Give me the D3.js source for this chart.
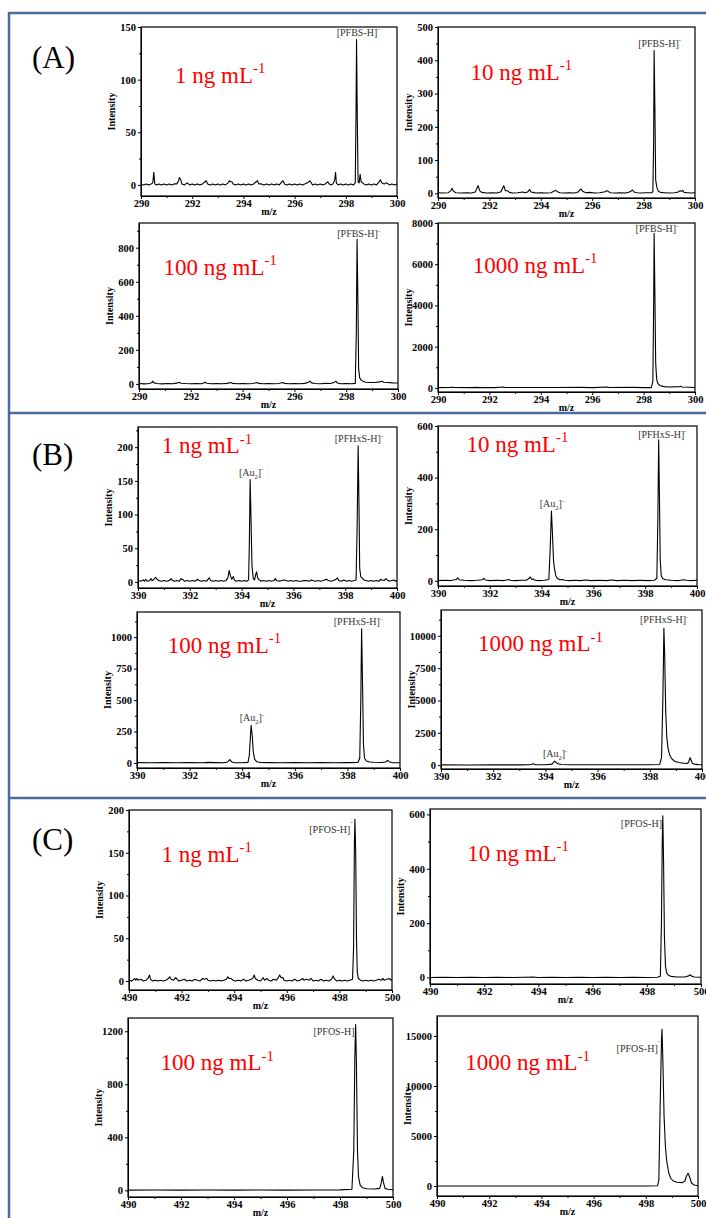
<!DOCTYPE html>
<html>
<head>
<meta charset="utf-8">
<script src="https://cdn.jsdelivr.net/npm/d3@7"></script>
<style>
body { margin: 0; background: #fff; }
svg text { font-family: "Liberation Serif", "Times New Roman", serif; }
</style>
</head>
<body>
<svg></svg>
<script>
// ---- data ----
var panelNames = ["(A)", "(B)", "(C)"];
var mzRanges = [[290, 300], [390, 400], [490, 500]];
var concentrations = ["1", "10", "100", "1000"];

// (A) PFBS spectra, [m/z, intensity]
var pfbs1 = [[290.0,1],[290.1,0],[290.2,1],[290.3,0],[290.4,1],[290.46,2],[290.5,12],[290.54,1],[290.6,0],[290.7,1],[290.8,0],[290.9,1],[291.0,0],[291.1,1],[291.2,0],[291.3,1],[291.4,1],[291.47,4],[291.5,7],[291.55,5],[291.6,1],[291.7,0],[291.8,2],[291.9,0],[292.0,1],[292.1,0],[292.2,1],[292.3,0],[292.4,1],[292.5,3],[292.55,4],[292.6,1],[292.7,0],[292.8,1],[292.9,0],[293.0,1],[293.1,0],[293.2,1],[293.3,0],[293.4,2],[293.45,4],[293.5,3],[293.55,3],[293.6,1],[293.7,0],[293.8,1],[293.9,0],[294.0,1],[294.1,0],[294.2,1],[294.3,0],[294.4,1],[294.5,3],[294.55,4],[294.6,1],[294.7,1],[294.8,0],[294.9,1],[295.0,0],[295.1,1],[295.2,0],[295.3,1],[295.4,0],[295.5,3],[295.55,4],[295.6,1],[295.7,0],[295.8,1],[295.9,0],[296.0,1],[296.1,0],[296.2,1],[296.3,0],[296.4,1],[296.5,2],[296.6,4],[296.65,2],[296.7,0],[296.8,1],[296.9,0],[297.0,1],[297.1,0],[297.2,1],[297.3,3],[297.35,1],[297.4,0],[297.5,1],[297.57,5],[297.6,12],[297.63,2],[297.7,0],[297.8,1],[297.9,0],[298.0,1],[298.1,0],[298.2,1],[298.3,0],[298.37,2],[298.4,70],[298.42,138],[298.45,60],[298.48,3],[298.52,2],[298.56,10],[298.6,3],[298.7,1],[298.8,0],[298.9,1],[299.0,0],[299.1,1],[299.2,0],[299.3,3],[299.35,5],[299.4,2],[299.5,1],[299.6,2],[299.7,0],[299.8,1],[299.9,0],[300.0,1]];
var pfbs10 = [[290,2],[290.2,1],[290.4,2],[290.5,8],[290.55,15],[290.6,6],[290.7,2],[290.9,1],[291.1,2],[291.3,1],[291.45,4],[291.53,18],[291.56,23],[291.62,8],[291.7,3],[291.9,1],[292.1,2],[292.3,1],[292.45,5],[292.53,18],[292.56,23],[292.62,8],[292.7,8],[292.78,3],[292.9,1],[293.1,2],[293.3,4],[293.4,2],[293.5,5],[293.57,11],[293.62,4],[293.7,3],[293.8,1],[294.0,2],[294.2,1],[294.4,2],[294.5,6],[294.57,9],[294.65,5],[294.75,2],[294.9,1],[295.1,2],[295.3,1],[295.45,4],[295.53,11],[295.57,13],[295.63,6],[295.75,2],[295.9,3],[296.1,1],[296.3,2],[296.5,5],[296.56,8],[296.62,6],[296.7,2],[296.9,1],[297.1,2],[297.3,1],[297.45,4],[297.53,8],[297.57,10],[297.63,4],[297.75,2],[297.9,1],[298.1,2],[298.3,2],[298.36,5],[298.39,150],[298.41,429],[298.44,250],[298.47,40],[298.51,20],[298.56,8],[298.65,3],[298.8,2],[299.0,1],[299.2,2],[299.35,4],[299.42,8],[299.47,6],[299.52,9],[299.58,3],[299.7,2],[299.85,1],[300,2]];
var pfbs100 = [[290,2],[290.2,0],[290.4,2],[290.5,8],[290.53,16],[290.58,6],[290.7,2],[290.9,0],[291.1,2],[291.3,1],[291.5,6],[291.55,10],[291.62,4],[291.8,2],[292.0,1],[292.2,2],[292.4,1],[292.5,5],[292.55,9],[292.62,4],[292.8,1],[293.0,2],[293.2,1],[293.4,3],[293.55,8],[293.62,3],[293.8,1],[294.0,2],[294.2,1],[294.4,2],[294.55,8],[294.62,3],[294.8,1],[295.0,2],[295.2,1],[295.4,2],[295.55,8],[295.62,3],[295.8,1],[296.0,2],[296.2,1],[296.4,3],[296.55,10],[296.6,16],[296.66,6],[296.8,2],[297.0,1],[297.2,3],[297.4,2],[297.55,10],[297.6,16],[297.66,5],[297.8,1],[298.0,2],[298.2,1],[298.35,3],[298.39,300],[298.42,849],[298.45,500],[298.48,90],[298.52,35],[298.58,22],[298.65,15],[298.75,10],[298.9,8],[299.1,8],[299.3,12],[299.38,15],[299.45,10],[299.6,8],[299.8,6],[300,5]];
var pfbs1000 = [[290,10],[290.5,20],[290.55,40],[290.6,15],[291.2,10],[291.55,25],[291.6,10],[292.2,10],[292.55,40],[292.6,15],[293.5,20],[294.55,20],[295.55,25],[296.0,10],[296.6,45],[296.65,15],[297.6,25],[298.0,10],[298.3,10],[298.36,300],[298.39,3800],[298.41,7495],[298.44,4500],[298.47,1200],[298.51,400],[298.56,200],[298.65,100],[298.8,60],[299.0,40],[299.4,60],[299.45,80],[299.5,40],[300,20]];

// (B) PFHxS spectra
var pfhxs1 = [[390.0,2],[390.1,1],[390.2,3],[390.25,1],[390.3,4],[390.35,1],[390.45,2],[390.5,5],[390.55,2],[390.62,4],[390.68,7],[390.72,5],[390.8,2],[390.9,1],[391.0,2],[391.1,1],[391.2,2],[391.28,5],[391.33,2],[391.4,1],[391.5,2],[391.6,1],[391.66,5],[391.7,4],[391.75,3],[391.8,1],[391.9,2],[392.0,1],[392.1,2],[392.2,1],[392.3,4],[392.35,2],[392.45,1],[392.55,2],[392.65,1],[392.72,5],[392.76,6],[392.8,2],[392.9,1],[393.0,2],[393.1,1],[393.2,2],[393.3,1],[393.4,2],[393.47,6],[393.52,17],[393.57,9],[393.62,4],[393.68,8],[393.72,3],[393.8,1],[393.9,2],[394.0,1],[394.1,2],[394.2,1],[394.27,3],[394.3,60],[394.33,152],[394.36,100],[394.4,25],[394.45,5],[394.5,3],[394.55,12],[394.58,15],[394.62,6],[394.68,3],[394.75,1],[394.85,2],[394.95,1],[395.05,2],[395.15,1],[395.25,2],[395.3,5],[395.35,2],[395.45,1],[395.55,2],[395.65,3],[395.72,2],[395.8,1],[395.9,2],[396.0,1],[396.1,2],[396.2,1],[396.3,1],[396.4,2],[396.5,2],[396.6,1],[396.7,3],[396.75,2],[396.85,1],[396.95,2],[397.05,1],[397.15,2],[397.28,4],[397.35,2],[397.45,1],[397.55,2],[397.65,4],[397.7,6],[397.75,2],[397.85,1],[397.95,3],[398.05,1],[398.15,2],[398.25,1],[398.35,2],[398.42,3],[398.46,80],[398.5,202],[398.53,120],[398.56,20],[398.6,8],[398.65,6],[398.72,3],[398.8,2],[398.9,1],[399.0,2],[399.1,1],[399.2,2],[399.3,1],[399.38,4],[399.42,3],[399.5,2],[399.57,5],[399.62,3],[399.7,1],[399.8,2],[399.88,3],[399.95,1],[400,2]];
var pfhxs10 = [[390,1],[390.3,2],[390.5,1],[390.7,5],[390.76,12],[390.82,4],[391.0,2],[391.3,1],[391.5,2],[391.7,4],[391.77,10],[391.83,3],[392.0,1],[392.3,2],[392.5,1],[392.65,3],[392.72,5],[392.8,2],[393.0,1],[393.2,2],[393.4,2],[393.5,8],[393.56,15],[393.62,5],[393.68,7],[393.75,2],[393.9,1],[394.1,2],[394.28,5],[394.33,120],[394.38,270],[394.42,180],[394.46,80],[394.5,45],[394.55,20],[394.6,10],[394.7,4],[394.8,5],[394.9,2],[395.1,1],[395.3,2],[395.5,1],[395.7,3],[395.9,1],[396.2,2],[396.5,1],[396.7,3],[396.9,1],[397.2,2],[397.5,1],[397.8,2],[398.1,1],[398.35,2],[398.45,10],[398.49,250],[398.52,547],[398.55,330],[398.58,80],[398.62,20],[398.68,8],[398.8,4],[399.0,2],[399.3,1],[399.5,4],[399.6,2],[399.8,1],[400,2]];
var pfhxs100 = [[390,3],[390.5,2],[391,3],[391.5,2],[392,3],[392.5,2],[392.7,5],[393,3],[393.3,2],[393.45,8],[393.53,26],[393.6,8],[393.7,3],[394.0,2],[394.22,5],[394.27,60],[394.31,200],[394.34,299],[394.38,220],[394.42,90],[394.47,30],[394.55,10],[394.7,4],[395,3],[395.5,2],[396,3],[396.5,2],[397,3],[397.5,2],[398,3],[398.4,4],[398.47,40],[398.51,500],[398.54,1067],[398.57,700],[398.61,150],[398.65,40],[398.72,15],[398.85,8],[399.0,6],[399.3,4],[399.45,8],[399.53,21],[399.6,8],[399.7,3],[400,2]];
var pfhxs1000 = [[390,20],[391,15],[392,20],[393,20],[393.4,30],[393.54,100],[393.6,40],[394.0,30],[394.25,80],[394.3,200],[394.35,308],[394.4,220],[394.48,100],[394.6,50],[395,30],[396,25],[397,25],[398,30],[398.38,50],[398.45,600],[398.5,5000],[398.54,10594],[398.57,8500],[398.61,4200],[398.65,2200],[398.7,1300],[398.76,800],[398.84,500],[398.95,300],[399.1,200],[399.3,150],[399.42,120],[399.48,200],[399.52,450],[399.55,570],[399.58,400],[399.63,150],[399.7,80],[399.85,40],[400,30]];

// (C) PFOS spectra
var pfos1 = [[490.0,1],[490.1,0],[490.18,2],[490.22,3],[490.26,1],[490.3,3],[490.35,1],[490.45,2],[490.55,0],[490.65,1],[490.72,3],[490.78,7],[490.82,2],[490.9,0],[491.0,1],[491.1,0],[491.2,1],[491.3,0],[491.4,1],[491.5,3],[491.55,5],[491.6,2],[491.7,1],[491.78,4],[491.83,2],[491.9,0],[492.0,1],[492.1,2],[492.2,0],[492.3,1],[492.4,0],[492.5,2],[492.6,1],[492.7,0],[492.8,3],[492.85,2],[492.95,3],[493.0,1],[493.1,0],[493.2,1],[493.3,0],[493.4,1],[493.5,0],[493.6,1],[493.7,2],[493.76,5],[493.8,3],[493.88,3],[493.95,1],[494.05,0],[494.15,1],[494.25,0],[494.35,2],[494.45,0],[494.55,1],[494.65,2],[494.72,4],[494.76,7],[494.8,3],[494.9,1],[495.0,0],[495.1,4],[495.15,1],[495.25,3],[495.3,1],[495.4,0],[495.5,2],[495.6,1],[495.68,4],[495.73,7],[495.78,4],[495.85,4],[495.9,1],[496.0,0],[496.1,1],[496.2,0],[496.3,2],[496.4,0],[496.5,1],[496.6,3],[496.65,1],[496.75,2],[496.85,1],[496.92,3],[497.0,0],[497.1,1],[497.2,0],[497.3,2],[497.4,0],[497.5,1],[497.6,0],[497.7,2],[497.76,6],[497.8,3],[497.9,0],[498.0,1],[498.1,0],[498.2,1],[498.3,0],[498.4,1],[498.5,2],[498.54,40],[498.57,160],[498.59,189],[498.62,150],[498.65,50],[498.68,10],[498.72,3],[498.8,1],[498.9,0],[499.0,1],[499.1,0],[499.2,1],[499.3,0],[499.4,1],[499.5,2],[499.6,1],[499.65,3],[499.7,1],[499.8,2],[499.9,3],[499.95,1],[500,2]];
var pfos10 = [[490,0],[490.5,1],[491,0],[491.5,1],[492,0],[492.5,1],[493,0],[493.5,1],[493.8,2],[494,0],[494.5,1],[495,0],[495.5,1],[496,0],[496.5,1],[497,0],[497.5,1],[498,0],[498.4,1],[498.5,5],[498.54,200],[498.57,500],[498.59,595],[498.62,420],[498.65,150],[498.69,40],[498.74,15],[498.8,8],[498.9,4],[499.1,2],[499.4,2],[499.55,6],[499.6,10],[499.65,5],[499.75,2],[500,1]];
var pfos100 = [[490,2],[491,3],[492,2],[493,3],[494,2],[495,3],[496,2],[497,3],[498,4],[498.45,8],[498.52,300],[498.56,1000],[498.59,1250],[498.62,950],[498.66,300],[498.7,100],[498.76,40],[498.85,20],[499.0,12],[499.3,10],[499.5,15],[499.56,60],[499.6,105],[499.64,60],[499.7,15],[499.8,8],[500,5]];
var pfos1000 = [[490,0],[491,0],[492,0],[493,0],[494,0],[495,0],[496,0],[497,0],[498,0],[498.45,20],[498.5,600],[498.55,8000],[498.6,14500],[498.62,15670],[498.65,13000],[498.7,7000],[498.75,4000],[498.8,2500],[498.88,1300],[498.95,800],[499.05,500],[499.2,380],[499.4,340],[499.5,500],[499.56,1000],[499.62,1270],[499.68,900],[499.75,300],[499.85,100],[500,20]];

var spectra = [pfbs1, pfbs10, pfbs100, pfbs1000,
               pfhxs1, pfhxs10, pfhxs100, pfhxs1000,
               pfos1, pfos10, pfos100, pfos1000];

// y axis: domain and major tick step of each plot
var yDomains = [[-10.5, 150], [-14, 500], [-30, 945], [-200, 8000],
                [-9, 230], [-20, 600], [-40, 1200], [-300, 12000],
                [-10.5, 200], [-24, 620], [-50, 1300], [-1000, 17000]];
var yTickSteps = [50, 100, 200, 2000, 50, 200, 250, 2500, 50, 200, 400, 5000];

// peak labels: text, m/z, intensity where the label sits
var peakLabels = [
  [["[PFBS-H]^-", 298.48, 141.8]],
  [["[PFBS-H]^-", 298.62, 441]],
  [["[PFBS-H]^-", 298.48, 861]],
  [["[PFBS-H]^-", 298.52, 7573]],
  [["[PFHxS-H]^-", 398.53, 208], ["[Au_2]^-", 394.37, 158]],
  [["[PFHxS-H]^-", 398.66, 555], ["[Au_2]^-", 394.40, 286]],
  [["[PFHxS-H]^-", 398.40, 1093], ["[Au_2]^-", 394.37, 333]],
  [["[PFHxS-H]^-", 398.55, 10979], ["[Au_2]^-", 394.37, 648]],
  [["[PFOS-H]^-", 498.50, 172.7]],
  [["[PFOS-H]", 498.56, 555]],
  [["[PFOS-H]", 498.55, 1173]],
  [["[PFOS-H]^-", 498.54, 13400]]
];

// ---- layout ----
var boxes = [
  [141, 397, 27, 196], [438, 695, 27, 198],
  [139, 398, 223, 389], [438, 695, 223, 392],
  [138, 397, 427, 588], [438, 697, 426, 586],
  [137, 400, 612, 768], [441, 702, 610, 769],
  [129, 392, 810, 990], [430, 701, 809, 984],
  [128, 393, 1018, 1197], [437, 698, 1016, 1196]
];
// where the red concentration text starts, in the plot's own units
var concAt = [[291.33, 97], [291.26, 341], [290.95, 640], [291.35, 5568],
              [390.92, 190.7], [391.1, 499], [391.17, 873], [391.42, 8790],
              [491.24, 139.5], [491.37, 429], [491.23, 905], [491.08, 11577]];
var panelLabelAt = [[32, 68], [32, 465], [32, 850]];

function richText(textSel, str, size, supRaise) {
  var parts = str.split(/(_\d|\^[^_^]+)/).filter(function(s){ return s.length; });
  var shift = 0;
  parts.forEach(function(s){
    var target = 0, fs = size;
    if (s[0] == "_") { target = size * 0.3; fs = size * 0.65; s = s.slice(1); }
    else if (s[0] == "^") { target = -size * (supRaise || 0.42); fs = size * 0.65; s = s.slice(1); }
    textSel.append("tspan").attr("dy", target - shift).attr("font-size", fs).text(s);
    shift = target;
  });
}

window.onload = function(){
  var svg = d3.select("svg")
    .attr("width", 706)
    .attr("height", 1218);

  // blue frame around the three groups
  svg.append("path")
    .attr("d", "M9,1218V13H706M9,413H706M9,798H706")
    .attr("fill", "none")
    .attr("stroke", "#4a6b9c")
    .attr("stroke-width", 2.5);

  panelNames.forEach(function(name, k){
    svg.append("text")
      .attr("x", panelLabelAt[k][0])
      .attr("y", panelLabelAt[k][1])
      .attr("font-size", 31)
      .text(name);
  });

  spectra.forEach(function(data, i){
    var row = Math.floor(i / 4);
    var b = boxes[i];
    var x = d3.scaleLinear().domain(mzRanges[row]).range([b[0], b[1]]);
    var y = d3.scaleLinear().domain(yDomains[i]).range([b[3], b[2]]);
    var g = svg.append("g");

    // x ticks
    var xMajor = d3.range(mzRanges[row][0], mzRanges[row][1] + 0.1, 2);
    var xMinor = d3.range(mzRanges[row][0] + 1, mzRanges[row][1], 2);
    g.append("g")
      .attr("transform", "translate(0," + b[3] + ")")
      .call(d3.axisBottom(x).tickValues(xMajor).tickSize(3).tickPadding(1)
        .tickSizeOuter(0).tickFormat(d3.format("d")));
    g.append("g")
      .attr("transform", "translate(0," + b[3] + ")")
      .call(d3.axisBottom(x).tickValues(xMinor).tickSize(2).tickSizeOuter(0).tickFormat(""))
      .select(".domain").remove();

    // y ticks
    var step = yTickSteps[i];
    var yMajor = d3.range(0, yDomains[i][1] + 1, step);
    var yMinor = d3.range(step / 2, yDomains[i][1], step);
    g.append("g")
      .attr("transform", "translate(" + b[0] + ",0)")
      .call(d3.axisLeft(y).tickValues(yMajor).tickSize(3).tickPadding(2)
        .tickSizeOuter(0).tickFormat(d3.format("d")));
    g.append("g")
      .attr("transform", "translate(" + b[0] + ",0)")
      .call(d3.axisLeft(y).tickValues(yMinor).tickSize(2).tickSizeOuter(0).tickFormat(""))
      .select(".domain").remove();

    g.selectAll(".tick text")
      .attr("font-family", "Liberation Serif, serif")
      .attr("font-weight", "bold")
      .attr("font-size", 10.5)
      .attr("fill", "#000");
    g.selectAll(".tick line").attr("stroke", "#000").attr("stroke-width", 1);

    // spectrum
    var line = d3.line()
      .x(function(d){ return x(d[0]); })
      .y(function(d){ return y(d[1]); });
    g.append("path")
      .datum(data)
      .attr("d", line)
      .attr("fill", "none")
      .attr("stroke", "#000")
      .attr("stroke-width", 1.1)
      .attr("stroke-linejoin", "round");

    // frame
    g.append("rect")
      .attr("x", b[0]).attr("y", b[2])
      .attr("width", b[1] - b[0]).attr("height", b[3] - b[2])
      .attr("fill", "none")
      .attr("stroke", "#000")
      .attr("stroke-width", 1.2);

    // axis titles
    g.append("text")
      .attr("transform", "translate(" + (b[0] - 26) + "," + ((b[2] + b[3]) / 2) + ") rotate(-90)")
      .attr("text-anchor", "middle")
      .attr("font-weight", "bold")
      .attr("font-size", 10)
      .text("Intensity");
    g.append("text")
      .attr("x", (b[0] + b[1]) / 2)
      .attr("y", b[3] + 19)
      .attr("text-anchor", "middle")
      .attr("font-weight", "bold")
      .attr("font-size", 10)
      .text("m/z");

    // concentration
    var ct = g.append("text")
      .attr("x", x(concAt[i][0]))
      .attr("y", y(concAt[i][1]))
      .attr("fill", "#ff0000")
      .attr("font-size", 23);
    richText(ct, concentrations[i % 4] + " ng mL^-1", 23);

    // peak labels
    peakLabels[i].forEach(function(pl){
      var anchor = row == 2 ? "end" : "middle";
      var t = g.append("text")
        .attr("x", x(pl[1]))
        .attr("y", y(pl[2]))
        .attr("text-anchor", anchor)
        .attr("fill", "#333")
        .attr("font-size", 10);
      richText(t, pl[0], 10, row == 2 ? 0.9 : 0.42);
    });
  });
};
</script>
</body>
</html>
